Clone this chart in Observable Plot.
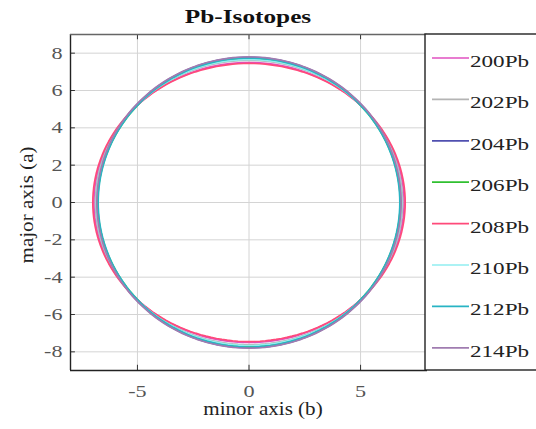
<!DOCTYPE html>
<html>
<head>
<meta charset="utf-8">
<script src="https://cdn.jsdelivr.net/npm/d3@7"></script>
<script src="https://cdn.jsdelivr.net/npm/@observablehq/plot@0.6"></script>
<style>
  html, body { margin: 0; padding: 0; background: #fff; }
  svg { display: block; }
</style>
</head>
<body>
<div id="chart"></div>
<script>
// Pb isotopes: major (a) and minor (b) semi-axes of each shape
const isotopes = ["200Pb", "202Pb", "204Pb", "206Pb", "208Pb", "210Pb", "212Pb", "214Pb"];
const majorA   = [7.50, 7.62, 7.78, 7.70, 7.45, 7.66, 7.74, 7.80];
const minorB   = [6.95, 6.88, 6.80, 6.78, 7.00, 6.84, 6.76, 6.82];
const colors   = ["#e050c0", "#b4b4b4", "#5050b0", "#30c030", "#ff4a7a", "#90eef0", "#28b4c4", "#a07cb0"];
const xTicks = [-5, 0, 5];
const yTicks = [-8, -6, -4, -2, 0, 2, 4, 6, 8];

// outline of each ellipse x = b cos t, y = a sin t
const rows = [];
isotopes.forEach((iso, i) => {
  for (let d = 0; d <= 360; d += 2) {
    const t = d * Math.PI / 180;
    rows.push({iso, x: minorB[i] * Math.cos(t), y: majorA[i] * Math.sin(t)});
  }
});

const W = 536, H = 429;
const mL = 70, mR = 109, mT = 34, mB = 59;
const serif = "'Liberation Serif', 'DejaVu Serif', serif";

const chart = Plot.plot({
  width: W,
  height: H,
  marginLeft: mL,
  marginRight: mR,
  marginTop: mT,
  marginBottom: mB,
  style: {fontFamily: serif, fontSize: "17px", color: "#555", background: "#fff"},
  x: {domain: [-8, 8]},
  y: {domain: [-9, 9]},
  color: {domain: isotopes, range: colors},
  marks: [
    Plot.gridX(xTicks, {stroke: "#d4d4d4", strokeOpacity: 1}),
    Plot.gridY(yTicks, {stroke: "#d4d4d4", strokeOpacity: 1}),
    Plot.axisX(xTicks, {tickSize: 0, tickPadding: 14, fontSize: 17, label: null, tickFormat: d => String(d)}),
    Plot.axisY(yTicks, {tickSize: 0, tickPadding: 8, fontSize: 17, label: null, tickFormat: d => String(d)}),
    // inward tick marks
    Plot.ruleX(xTicks, {y1: -9, y2: -8.72, stroke: "#333"}),
    Plot.ruleX(xTicks, {y1: 9, y2: 8.72, stroke: "#333"}),
    Plot.ruleY(yTicks, {x1: -8, x2: -7.78, stroke: "#333"}),
    Plot.line(rows, {x: "x", y: "y", z: "iso", stroke: "iso", strokeWidth: 1.7}),
    // axes frame (left, bottom, top)
    Plot.ruleX([-8], {y1: -9, y2: 9, stroke: "#222", strokeWidth: 1.4}),
    Plot.ruleY([-9], {x1: -8, x2: 8, stroke: "#222", strokeWidth: 1.4}),
    Plot.ruleY([9], {x1: -8, x2: 8, stroke: "#666", strokeWidth: 1.4})
  ]
});
document.getElementById("chart").appendChild(chart);

const svg = d3.select(chart);

// title and axis labels
svg.append("text").attr("x", 248).attr("y", 23).attr("text-anchor", "middle")
  .attr("font-family", serif).attr("font-weight", "bold").attr("font-size", 19).attr("fill", "#111")
  .attr("class", "wide-title").text("Pb-Isotopes");
svg.append("text").attr("x", 263).attr("y", 415).attr("text-anchor", "middle")
  .attr("font-family", serif).attr("font-size", 18).attr("fill", "#222")
  .attr("class", "wide-label").text("minor axis (b)");
svg.append("text").attr("transform", "translate(33,205) rotate(-90)").attr("text-anchor", "middle")
  .attr("font-family", serif).attr("font-size", 18).attr("fill", "#222")
  .attr("class", "wide-label").text("major axis (a)");

// legend box to the right of the axes
const lx = W - mR - 2, boxTop = mT, boxBottom = H - mB;
svg.append("rect").attr("x", lx).attr("y", boxTop).attr("width", W - lx + 5).attr("height", boxBottom - boxTop)
  .attr("fill", "#fff").attr("stroke", "#222").attr("stroke-width", 1.4);
const g = svg.append("g");
isotopes.forEach((iso, i) => {
  const y = 58 + i * 41.4;
  g.append("line").attr("x1", lx + 7).attr("x2", lx + 44).attr("y1", y).attr("y2", y)
    .attr("stroke", colors[i]).attr("stroke-width", 1.7);
  g.append("text").attr("x", lx + 45).attr("y", y + 3).attr("dy", "0.35em").attr("text-anchor", "start")
    .attr("font-family", serif).attr("font-size", 17).attr("fill", "#222")
    .attr("class", "wide-legend").text(iso);
});

// the serif lettering is set wide
function widen(sel, k) {
  sel.each(function() {
    const w = this.getComputedTextLength();
    this.setAttribute("textLength", (w * k).toFixed(1));
    this.setAttribute("lengthAdjust", "spacingAndGlyphs");
  });
}
widen(svg.selectAll(".wide-title"), 1.33);
widen(svg.selectAll(".wide-label"), 1.17);
widen(svg.selectAll(".wide-legend"), 1.36);
widen(svg.selectAll('g[aria-label="x-axis tick label"] text, g[aria-label="y-axis tick label"] text'), 1.3);
</script>
</body>
</html>
